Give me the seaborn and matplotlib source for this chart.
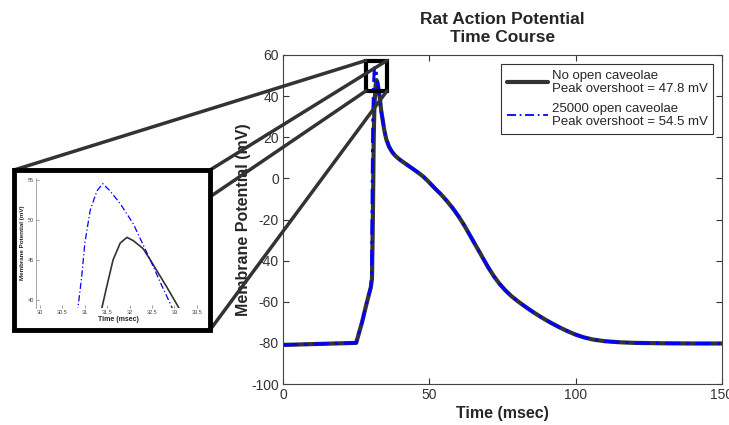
import numpy as np
import pandas as pd
import matplotlib
matplotlib.use("Agg")
import matplotlib.pyplot as plt
import seaborn as sns
from matplotlib.patches import Rectangle, ConnectionPatch
from matplotlib.lines import Line2D

# ---------------- data ----------------
tail_t = [34.0, 34.6, 35.3, 36.2, 37.3, 38.5, 40, 42, 44, 46, 48, 50, 52, 54,
          56, 58, 60, 62, 64, 66, 68, 70, 72, 74, 76, 78, 80, 82, 84, 86, 88,
          90, 92, 94, 96, 98, 100, 103, 106, 110, 115, 120, 130, 140, 150]
tail_v = [29, 23.5, 19, 15.5, 12.8, 10.8, 9, 7, 5, 3, 0.8, -2, -5, -7.8,
          -11, -14.5, -18.5, -23, -28, -33, -38, -43, -47.5, -51.3, -54.5,
          -57.2, -59.5, -61.6, -63.6, -65.5, -67.3, -69, -70.6, -72.1, -73.5,
          -74.8, -76, -77.4, -78.4, -79.2, -79.7, -80, -80.2, -80.3, -80.3]

t_none = [0, 5, 10, 15, 20, 25, 27, 28.6, 30.0, 30.4, 30.7, 31.0, 31.2, 31.38,
          31.49, 31.63, 31.79, 31.94, 32.08, 32.3, 32.46, 32.83, 33.1, 33.5] + tail_t
v_none = [-81, -80.8, -80.6, -80.4, -80.2, -80, -70, -60.6, -53, -49, -20, 20,
          33, 39, 41.7, 45.0, 47.1, 47.8, 47.4, 46.4, 45.0, 41.6, 39.0, 33.5] + tail_v

t_cav = [0, 5, 10, 15, 20, 25, 27, 28.6, 30.0, 30.3, 30.5, 30.7, 30.85, 30.93,
         31.0, 31.12, 31.27, 31.4, 31.56, 31.79, 32.08, 32.46, 32.7, 32.95,
         33.3, 33.6] + tail_t
v_cav = [-81, -80.8, -80.6, -80.4, -80.2, -80, -70, -60.6, -53, -45, 0, 30,
         39.2, 42.9, 47.1, 51.2, 53.6, 54.5, 53.6, 52.0, 49.5, 45.0, 42.0, 39.0,
         35.0, 32.0] + tail_v

label_none = "No open caveolae\nPeak overshoot = 47.8 mV"
label_cav = "25000 open caveolae\nPeak overshoot = 54.5 mV"

main_xticks = [0, 50, 100, 150]
main_yticks = [-100, -80, -60, -40, -20, 0, 20, 40, 60]
inset_xticks = [30, 30.5, 31, 31.5, 32, 32.5, 33, 33.5]
inset_xticklabels = ["30", "30.5", "31", "31.5", "32", "32.5", "33", "33.5"]
inset_yticks = [40, 45, 50, 55]

df_none = pd.DataFrame({"t": t_none, "v": v_none})
df_cav = pd.DataFrame({"t": t_cav, "v": v_cav})

# ---------------- style ----------------
sns.set_style("ticks")
plt.rcParams["font.family"] = ["Liberation Sans", "DejaVu Sans"]
plt.rcParams["axes.unicode_minus"] = False

W, H = 729, 425
fig = plt.figure(figsize=(W / 100, H / 100), dpi=100)

BLACK = "#333333"
BLUE = "#0000ff"

# main axes
ax = fig.add_axes([283 / W, 1 - 384 / H, (722 - 283) / W, (384 - 55) / H])
sns.lineplot(data=df_none, x="t", y="v", ax=ax, color=BLACK, lw=3,
             estimator=None, sort=False)
sns.lineplot(data=df_cav, x="t", y="v", ax=ax, color=BLUE, lw=2.2,
             estimator=None, sort=False)
ax.lines[-1].set_dashes((5, 2, 1, 2))

ax.set_xlim(0, 150)
ax.set_ylim(-100, 60)
ax.set_xticks(main_xticks)
ax.set_yticks(main_yticks)
ax.tick_params(direction="in", top=True, right=True, length=4, width=0.8,
               colors=BLACK, labelsize=10, pad=3)
for s in ax.spines.values():
    s.set_visible(True)
    s.set_color("#444444")
    s.set_linewidth(0.8)
ax.set_xlabel("Time (msec)", fontsize=11.5, fontweight="bold", labelpad=3)
ax.set_ylabel("Membrane Potential (mV)", fontsize=11.5, fontweight="bold",
              labelpad=0)
ax.set_title("Rat Action Potential\nTime Course", fontsize=12.5,
             fontweight="bold", pad=9, linespacing=1.3)

handles = [Line2D([], [], color=BLACK, lw=3),
           Line2D([], [], color=BLUE, lw=1.3, dashes=(5, 2, 1, 2))]
leg = ax.legend(handles, [label_none, label_cav], loc="upper right",
                fontsize=9.5, frameon=True, fancybox=False, framealpha=1,
                edgecolor=BLACK, borderaxespad=0.7, borderpad=0.4,
                handlelength=3.1, handletextpad=0.3, labelspacing=0.55)
leg.get_frame().set_linewidth(0.8)

# zoom rectangle on main axes
rx0, rx1, ry0, ry1 = 28.3, 35.5, 42.5, 57.3
ax.add_patch(Rectangle((rx0, ry0), rx1 - rx0, ry1 - ry0, fill=False,
                       ec="black", lw=3, zorder=6))

# inset frame (figure coords)
fx0, fx1, fy_top, fy_bot = 14 / W, 210 / W, 1 - 170 / H, 1 - 330 / H
fig.add_artist(Rectangle((fx0, fy_bot), fx1 - fx0, fy_top - fy_bot,
                         transform=fig.transFigure, fc="white", ec="black",
                         lw=3.5, zorder=4))

# connection lines
for (xa, ya), (xb, yb) in [((rx0, ry1), (fx0, fy_top)),
                           ((rx1, ry1), (fx1, fy_top)),
                           ((rx0, ry0), (fx0, fy_bot)),
                           ((rx1, ry0), (fx1, fy_bot))]:
    con = ConnectionPatch(xyA=(xa, ya), coordsA=ax.transData,
                          xyB=(xb, yb), coordsB=fig.transFigure,
                          color="#333333", lw=2.5, zorder=3)
    fig.add_artist(con)

# inset axes
ins = fig.add_axes([36 / W, 1 - 308 / H, 164 / W, 130 / H], zorder=5)
ins.patch.set_alpha(0)
sns.lineplot(data=df_none, x="t", y="v", ax=ins, color=BLACK, lw=1.2,
             estimator=None, sort=False)
sns.lineplot(data=df_cav, x="t", y="v", ax=ins, color=BLUE, lw=0.9,
             estimator=None, sort=False)
ins.lines[-1].set_dashes((5, 2, 1, 2))
ins.set_xlim(29.91, 33.57)
ins.set_ylim(39.0, 55.2)
ins.set_xticks(inset_xticks)
ins.set_xticklabels(inset_xticklabels)
ins.set_yticks(inset_yticks)
ins.tick_params(direction="in", length=2, width=0.5, colors="#777777",
                labelsize=4, pad=1.5, labelcolor="#444444")
for k in ["top", "right", "bottom"]:
    ins.spines[k].set_visible(False)
ins.spines["left"].set_color("#999999")
ins.spines["left"].set_linewidth(0.6)
ins.set_xlabel("Time (msec)", fontsize=5, fontweight="bold", labelpad=1)
ins.set_ylabel("Membrane Potential (mV)", fontsize=4.5, fontweight="bold",
               labelpad=2)

fig.savefig("out.png", dpi=100)
